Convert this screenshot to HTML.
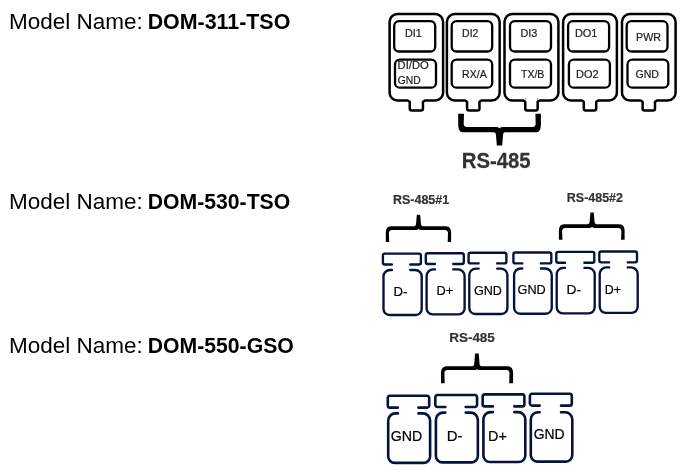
<!DOCTYPE html>
<html><head><meta charset="utf-8"><title>RS-485 pinout</title>
<style>
html,body{margin:0;padding:0;background:#fff;}
body{width:682px;height:472px;overflow:hidden;}
svg{display:block;will-change:transform;font-family:"Liberation Sans",sans-serif;}
</style></head><body>
<svg width="682" height="472" viewBox="0 0 682 472">
<rect width="682" height="472" fill="#fff"/>
<text x="9.05" y="29" font-size="21.5" font-weight="normal" fill="#000" textLength="133.80" lengthAdjust="spacingAndGlyphs">Model Name:</text>
<text x="147.68" y="29" font-size="21.5" font-weight="bold" fill="#000" textLength="142.61" lengthAdjust="spacingAndGlyphs">DOM-311-TSO</text>
<text x="9.05" y="209" font-size="21.5" font-weight="normal" fill="#000" textLength="133.80" lengthAdjust="spacingAndGlyphs">Model Name:</text>
<text x="147.68" y="209" font-size="21.5" font-weight="bold" fill="#000" textLength="142.61" lengthAdjust="spacingAndGlyphs">DOM-530-TSO</text>
<text x="9.05" y="353" font-size="21.5" font-weight="normal" fill="#000" textLength="133.80" lengthAdjust="spacingAndGlyphs">Model Name:</text>
<text x="147.68" y="353" font-size="21.5" font-weight="bold" fill="#000" textLength="146.11" lengthAdjust="spacingAndGlyphs">DOM-550-GSO</text>
<path d="M397.40000000000003,14.0 H435.3 A7.8,7.8 0 0 1 443.1,21.8 V92.7 A7.8,7.8 0 0 1 435.3,100.5 H424.95000000000005 L422.95000000000005,101.7 V108.5 Q422.95000000000005,110.5 420.95000000000005,110.5 H411.75 Q409.75,110.5 409.75,108.5 V101.7 L407.75,100.5 H397.40000000000003 A7.8,7.8 0 0 1 389.6,92.7 V21.8 A7.8,7.8 0 0 1 397.40000000000003,14.0 Z" fill="#fff" stroke="#000" stroke-width="2.5" stroke-linejoin="round"/>
<rect x="394.2" y="21.2" width="41.00" height="30.3" rx="4.8" ry="4.8" fill="#fff" stroke="#000" stroke-width="2.3"/>
<rect x="395.0" y="59.6" width="41.00" height="28.1" rx="4.8" ry="4.8" fill="#fff" stroke="#000" stroke-width="2.3"/>
<path d="M454.7,14.0 H491.84999999999997 A7.8,7.8 0 0 1 499.65,21.8 V92.7 A7.8,7.8 0 0 1 491.84999999999997,100.5 H481.47499999999997 L479.47499999999997,101.7 V108.5 Q479.47499999999997,110.5 477.47499999999997,110.5 H469.075 Q467.075,110.5 467.075,108.5 V101.7 L465.075,100.5 H454.7 A7.8,7.8 0 0 1 446.9,92.7 V21.8 A7.8,7.8 0 0 1 454.7,14.0 Z" fill="#fff" stroke="#000" stroke-width="2.5" stroke-linejoin="round"/>
<rect x="451.7" y="21.2" width="40.50" height="30.3" rx="4.8" ry="4.8" fill="#fff" stroke="#000" stroke-width="2.3"/>
<rect x="451.7" y="59.6" width="40.50" height="28.1" rx="4.8" ry="4.8" fill="#fff" stroke="#000" stroke-width="2.3"/>
<path d="M512.3,14.0 H550.6 A7.8,7.8 0 0 1 558.4,21.8 V92.7 A7.8,7.8 0 0 1 550.6,100.5 H539.6500000000001 L537.6500000000001,101.7 V108.5 Q537.6500000000001,110.5 535.6500000000001,110.5 H527.25 Q525.25,110.5 525.25,108.5 V101.7 L523.25,100.5 H512.3 A7.8,7.8 0 0 1 504.5,92.7 V21.8 A7.8,7.8 0 0 1 512.3,14.0 Z" fill="#fff" stroke="#000" stroke-width="2.5" stroke-linejoin="round"/>
<rect x="510.0" y="21.2" width="41.00" height="30.3" rx="4.8" ry="4.8" fill="#fff" stroke="#000" stroke-width="2.3"/>
<rect x="510.0" y="59.6" width="41.00" height="28.1" rx="4.8" ry="4.8" fill="#fff" stroke="#000" stroke-width="2.3"/>
<path d="M570.9,14.0 H609.1 A7.8,7.8 0 0 1 616.9,21.8 V92.7 A7.8,7.8 0 0 1 609.1,100.5 H598.2 L596.2,101.7 V108.5 Q596.2,110.5 594.2,110.5 H585.8 Q583.8,110.5 583.8,108.5 V101.7 L581.8,100.5 H570.9 A7.8,7.8 0 0 1 563.1,92.7 V21.8 A7.8,7.8 0 0 1 570.9,14.0 Z" fill="#fff" stroke="#000" stroke-width="2.5" stroke-linejoin="round"/>
<rect x="568.1" y="21.2" width="41.00" height="30.3" rx="4.8" ry="4.8" fill="#fff" stroke="#000" stroke-width="2.3"/>
<rect x="568.9" y="59.6" width="41.00" height="28.1" rx="4.8" ry="4.8" fill="#fff" stroke="#000" stroke-width="2.3"/>
<path d="M629.8,14.0 H667.8000000000001 A7.8,7.8 0 0 1 675.6,21.8 V92.7 A7.8,7.8 0 0 1 667.8000000000001,100.5 H657.0 L655.0,101.7 V108.5 Q655.0,110.5 653.0,110.5 H644.5999999999999 Q642.5999999999999,110.5 642.5999999999999,108.5 V101.7 L640.5999999999999,100.5 H629.8 A7.8,7.8 0 0 1 622.0,92.7 V21.8 A7.8,7.8 0 0 1 629.8,14.0 Z" fill="#fff" stroke="#000" stroke-width="2.5" stroke-linejoin="round"/>
<rect x="626.7" y="21.2" width="40.80" height="30.3" rx="4.8" ry="4.8" fill="#fff" stroke="#000" stroke-width="2.3"/>
<rect x="627.5" y="59.6" width="40.80" height="28.1" rx="4.8" ry="4.8" fill="#fff" stroke="#000" stroke-width="2.3"/>
<circle cx="525.7" cy="98.9" r="0.6" fill="#555"/><circle cx="537.5" cy="98.9" r="0.6" fill="#555"/>
<text transform="matrix(1.0767 0.0004 0 1 404.91 37.0)" font-size="10.1" font-weight="normal" fill="#222" stroke="#222" stroke-width="0.2">DI1</text>
<text transform="matrix(1.1105 0.0004 0 1 397.58 69.2)" font-size="10.1" font-weight="normal" fill="#222" stroke="#222" stroke-width="0.2">DI/DO</text>
<text transform="matrix(1.0209 0.0004 0 1 397.78 84.0)" font-size="10.1" font-weight="normal" fill="#222" stroke="#222" stroke-width="0.2">GND</text>
<text transform="matrix(1.0431 0.0004 0 1 462.04 37)" font-size="10.1" font-weight="normal" fill="#222" stroke="#222" stroke-width="0.2">DI2</text>
<text transform="matrix(1.0473 0.0004 0 1 462.03 78)" font-size="10.1" font-weight="normal" fill="#222" stroke="#222" stroke-width="0.2">RX/A</text>
<text transform="matrix(1.0731 0.0004 0 1 520.41 37)" font-size="10.1" font-weight="normal" fill="#222" stroke="#222" stroke-width="0.2">DI3</text>
<text transform="matrix(1.0374 0.0004 0 1 521.06 78)" font-size="10.1" font-weight="normal" fill="#222" stroke="#222" stroke-width="0.2">TX/B</text>
<text transform="matrix(1.0851 0.0004 0 1 574.90 37)" font-size="10.1" font-weight="normal" fill="#222" stroke="#222" stroke-width="0.2">DO1</text>
<text transform="matrix(1.0859 0.0004 0 1 576.10 78)" font-size="10.1" font-weight="normal" fill="#222" stroke="#222" stroke-width="0.2">DO2</text>
<text transform="matrix(1.0644 0.0004 0 1 636.02 41)" font-size="10.1" font-weight="normal" fill="#222" stroke="#222" stroke-width="0.2">PWR</text>
<text transform="matrix(1.0488 0.0004 0 1 635.47 78)" font-size="10.1" font-weight="normal" fill="#222" stroke="#222" stroke-width="0.2">GND</text>
<path d="M458.2,113.8 L464.0,113.8 L463.7,124.5 Q464.0,126.9 466.4,126.9 L495.5,126.9 Q498.5,126.9 499.5,128.20000000000002 Q500.5,126.9 503.5,126.9 L533.0,126.9 Q535.4,126.9 535.6999999999999,124.5 L535.4,113.8 L540.9,113.8 L540.9,124.63999999999999 Q540.6999999999999,132.2 536.6999999999999,132.2 L505.0,132.2 Q503.5,132.2 503.1,134.2 L502.2,145.6 L496.8,145.6 L495.9,134.2 Q495.5,132.2 494.0,132.2 L462.4,132.2 Q458.4,132.2 458.2,124.63999999999999 Z" fill="#000"/>
<text transform="matrix(0.9411 0.0004 0 1 461.74 167.8)" font-size="21.6" font-weight="bold" fill="#333" stroke="#333" stroke-width="0.25">RS-485</text>
<path d="M391.93,264.5 H384.9 A2.0,2.0 0 0 1 382.9,262.5 V255.6 A2.0,2.0 0 0 1 384.9,253.6 H418.9 A2.0,2.0 0 0 1 420.9,255.6 V262.5 A2.0,2.0 0 0 1 418.9,264.5 H410.27" fill="none" stroke="#04133d" stroke-width="2.35" stroke-linecap="round"/>
<path d="M391.93,270.0 H390.1 A6.6,6.6 0 0 0 383.5,276.6 V309.06 A5.9399999999999995,5.9399999999999995 0 0 0 389.44,315.0 H415.76 A5.9399999999999995,5.9399999999999995 0 0 0 421.7,309.06 V276.6 A6.6,6.6 0 0 0 415.09999999999997,270.0 H410.27" fill="none" stroke="#04133d" stroke-width="2.35" stroke-linecap="round"/>
<path d="M434.93,264.0 H427.8 A2.0,2.0 0 0 1 425.8,262.0 V255.2 A2.0,2.0 0 0 1 427.8,253.2 H461.8 A2.0,2.0 0 0 1 463.8,255.2 V262.0 A2.0,2.0 0 0 1 461.8,264.0 H453.27" fill="none" stroke="#04133d" stroke-width="2.35" stroke-linecap="round"/>
<path d="M434.93,269.4 H433.20000000000005 A6.6,6.6 0 0 0 426.6,276.0 V308.46 A5.9399999999999995,5.9399999999999995 0 0 0 432.54,314.4 H458.66 A5.9399999999999995,5.9399999999999995 0 0 0 464.6,308.46 V276.0 A6.6,6.6 0 0 0 458.0,269.4 H453.27" fill="none" stroke="#04133d" stroke-width="2.35" stroke-linecap="round"/>
<path d="M478.62,263.4 H470.6 A2.0,2.0 0 0 1 468.6,261.4 V254.7 A2.0,2.0 0 0 1 470.6,252.7 H504.4 A2.0,2.0 0 0 1 506.4,254.7 V261.4 A2.0,2.0 0 0 1 504.4,263.4 H497.18" fill="none" stroke="#04133d" stroke-width="2.35" stroke-linecap="round"/>
<path d="M478.62,268.6 H475.90000000000003 A6.6,6.6 0 0 0 469.3,275.20000000000005 V308.06 A5.9399999999999995,5.9399999999999995 0 0 0 475.24,314.0 H501.46 A5.9399999999999995,5.9399999999999995 0 0 0 507.4,308.06 V275.20000000000005 A6.6,6.6 0 0 0 500.79999999999995,268.6 H497.18" fill="none" stroke="#04133d" stroke-width="2.35" stroke-linecap="round"/>
<path d="M522.32,263.4 H515.4 A2.0,2.0 0 0 1 513.4,261.4 V254.5 A2.0,2.0 0 0 1 515.4,252.5 H549.3 A2.0,2.0 0 0 1 551.3,254.5 V261.4 A2.0,2.0 0 0 1 549.3,263.4 H540.88" fill="none" stroke="#04133d" stroke-width="2.35" stroke-linecap="round"/>
<path d="M522.32,268.5 H520.7 A6.6,6.6 0 0 0 514.1,275.1 V307.76 A5.9399999999999995,5.9399999999999995 0 0 0 520.0400000000001,313.7 H545.81 A5.9399999999999995,5.9399999999999995 0 0 0 551.75,307.76 V275.1 A6.6,6.6 0 0 0 545.15,268.5 H540.88" fill="none" stroke="#04133d" stroke-width="2.35" stroke-linecap="round"/>
<path d="M565.02,262.7 H558.3 A2.0,2.0 0 0 1 556.3,260.7 V253.8 A2.0,2.0 0 0 1 558.3,251.8 H592.3 A2.0,2.0 0 0 1 594.3,253.8 V260.7 A2.0,2.0 0 0 1 592.3,262.7 H584.38" fill="none" stroke="#04133d" stroke-width="2.35" stroke-linecap="round"/>
<path d="M565.02,267.8 H563.3000000000001 A6.6,6.6 0 0 0 556.7,274.40000000000003 V307.36 A5.9399999999999995,5.9399999999999995 0 0 0 562.6400000000001,313.3 H588.76 A5.9399999999999995,5.9399999999999995 0 0 0 594.7,307.36 V274.40000000000003 A6.6,6.6 0 0 0 588.1,267.8 H584.38" fill="none" stroke="#04133d" stroke-width="2.35" stroke-linecap="round"/>
<path d="M609.17,262.3 H601.3 A2.0,2.0 0 0 1 599.3,260.3 V253.5 A2.0,2.0 0 0 1 601.3,251.5 H635.0 A2.0,2.0 0 0 1 637.0,253.5 V260.3 A2.0,2.0 0 0 1 635.0,262.3 H627.78" fill="none" stroke="#04133d" stroke-width="2.35" stroke-linecap="round"/>
<path d="M609.17,267.4 H606.3000000000001 A6.6,6.6 0 0 0 599.7,274.0 V306.86 A5.9399999999999995,5.9399999999999995 0 0 0 605.6400000000001,312.8 H631.76 A5.9399999999999995,5.9399999999999995 0 0 0 637.7,306.86 V274.0 A6.6,6.6 0 0 0 631.1,267.4 H627.78" fill="none" stroke="#04133d" stroke-width="2.35" stroke-linecap="round"/>
<text transform="matrix(1.0183 0.0004 0 1 393.62 295.8)" font-size="12.9" font-weight="normal" fill="#000" stroke="#000" stroke-width="0.2">D-</text>
<text transform="matrix(0.9898 0.0004 0 1 436.55 295.3)" font-size="12.9" font-weight="normal" fill="#000" stroke="#000" stroke-width="0.2">D+</text>
<text transform="matrix(0.9708 0.0004 0 1 473.97 295.3)" font-size="12.9" font-weight="normal" fill="#000" stroke="#000" stroke-width="0.2">GND</text>
<text transform="matrix(0.9854 0.0004 0 1 517.56 294.2)" font-size="12.9" font-weight="normal" fill="#000" stroke="#000" stroke-width="0.2">GND</text>
<text transform="matrix(1.0601 0.0004 0 1 566.58 294.2)" font-size="12.9" font-weight="normal" fill="#000" stroke="#000" stroke-width="0.2">D-</text>
<text transform="matrix(0.9634 0.0004 0 1 604.78 294.2)" font-size="12.9" font-weight="normal" fill="#000" stroke="#000" stroke-width="0.2">D+</text>
<path d="M385.8,242.0 L389.2,242.0 L388.9,232.55 Q389.2,230.0 391.75,230.0 L415.5,230.0 Q417.5,230.0 418.5,229.1 Q419.5,230.0 421.5,230.0 L445.15,230.0 Q447.7,230.0 448.0,232.55 L447.7,242.0 L451.1,242.0 L451.1,232.3 Q450.90000000000003,226.3 446.1,226.3 L422.9,226.3 Q421.4,226.3 421.0,224.3 L420.15,214.8 L416.85,214.8 L416.0,224.3 Q415.6,226.3 414.1,226.3 L390.8,226.3 Q386.0,226.3 385.8,232.3 Z" fill="#000"/>
<path d="M558.9,239.7 L562.4,239.7 L562.1,230.45000000000002 Q562.4,227.9 564.9499999999999,227.9 L589.1,227.9 Q591.1,227.9 592.1,227.0 Q593.1,227.9 595.1,227.9 L618.5500000000001,227.9 Q621.1,227.9 621.4,230.45000000000002 L621.1,239.7 L624.6,239.7 L624.6,230.3 Q624.4,224.3 619.6,224.3 L596.5,224.3 Q595.0,224.3 594.6,222.3 L593.75,212.6 L590.45,212.6 L589.6,222.3 Q589.2,224.3 587.7,224.3 L563.9,224.3 Q559.1,224.3 558.9,230.3 Z" fill="#000"/>
<text transform="matrix(0.9507 0.0004 0 1 393.07 204.2)" font-size="13.1" font-weight="bold" fill="#333" stroke="#333" stroke-width="0.2">RS-485#1</text>
<text transform="matrix(0.9516 0.0004 0 1 566.87 201.8)" font-size="13.1" font-weight="bold" fill="#333" stroke="#333" stroke-width="0.2">RS-485#2</text>
<path d="M397.90,407.6 H390.0 A2.2,2.2 0 0 1 387.8,405.40000000000003 V398.0 A2.2,2.2 0 0 1 390.0,395.8 H427.0 A2.2,2.2 0 0 1 429.2,398.0 V405.40000000000003 A2.2,2.2 0 0 1 427.0,407.6 H418.40" fill="none" stroke="#04133d" stroke-width="2.6" stroke-linecap="round"/>
<path d="M397.90,413.4 H395.4 A7.2,7.2 0 0 0 388.2,420.59999999999997 V456.41999999999996 A6.48,6.48 0 0 0 394.68,462.9 H423.62 A6.48,6.48 0 0 0 430.1,456.41999999999996 V420.59999999999997 A7.2,7.2 0 0 0 422.90000000000003,413.4 H418.40" fill="none" stroke="#04133d" stroke-width="2.6" stroke-linecap="round"/>
<path d="M445.30,407.0 H437.5 A2.2,2.2 0 0 1 435.3,404.8 V397.2 A2.2,2.2 0 0 1 437.5,395.0 H474.85 A2.2,2.2 0 0 1 477.05,397.2 V404.8 A2.2,2.2 0 0 1 474.85,407.0 H465.70" fill="none" stroke="#04133d" stroke-width="2.6" stroke-linecap="round"/>
<path d="M445.30,412.6 H443.09999999999997 A7.2,7.2 0 0 0 435.9,419.8 V455.91999999999996 A6.48,6.48 0 0 0 442.38,462.4 H471.37 A6.48,6.48 0 0 0 477.85,455.91999999999996 V419.8 A7.2,7.2 0 0 0 470.65000000000003,412.6 H465.70" fill="none" stroke="#04133d" stroke-width="2.6" stroke-linecap="round"/>
<path d="M492.90,406.4 H484.84999999999997 A2.2,2.2 0 0 1 482.65,404.2 V396.59999999999997 A2.2,2.2 0 0 1 484.84999999999997,394.4 H522.1999999999999 A2.2,2.2 0 0 1 524.4,396.59999999999997 V404.2 A2.2,2.2 0 0 1 522.1999999999999,406.4 H514.30" fill="none" stroke="#04133d" stroke-width="2.6" stroke-linecap="round"/>
<path d="M492.90,412.1 H490.59999999999997 A7.2,7.2 0 0 0 483.4,419.3 V455.52 A6.48,6.48 0 0 0 489.88,462.0 H518.8199999999999 A6.48,6.48 0 0 0 525.3,455.52 V419.3 A7.2,7.2 0 0 0 518.0999999999999,412.1 H514.30" fill="none" stroke="#04133d" stroke-width="2.6" stroke-linecap="round"/>
<path d="M539.70,405.6 H532.1 A2.2,2.2 0 0 1 529.9,403.40000000000003 V395.9 A2.2,2.2 0 0 1 532.1,393.7 H569.5999999999999 A2.2,2.2 0 0 1 571.8,395.9 V403.40000000000003 A2.2,2.2 0 0 1 569.5999999999999,405.6 H561.00" fill="none" stroke="#04133d" stroke-width="2.6" stroke-linecap="round"/>
<path d="M539.70,412.2 H538.0 A7.2,7.2 0 0 0 530.8,419.4 V455.12 A6.48,6.48 0 0 0 537.28,461.6 H565.8199999999999 A6.48,6.48 0 0 0 572.3,455.12 V419.4 A7.2,7.2 0 0 0 565.0999999999999,412.2 H561.00" fill="none" stroke="#04133d" stroke-width="2.6" stroke-linecap="round"/>
<text transform="matrix(1.0195 0.0004 0 1 390.79 441.3)" font-size="13.9" font-weight="normal" fill="#000" stroke="#000" stroke-width="0.2">GND</text>
<text transform="matrix(1.0768 0.0004 0 1 446.77 441.3)" font-size="13.9" font-weight="normal" fill="#000" stroke="#000" stroke-width="0.2">D-</text>
<text transform="matrix(1.0349 0.0004 0 1 488.02 441.3)" font-size="13.9" font-weight="normal" fill="#000" stroke="#000" stroke-width="0.2">D+</text>
<text transform="matrix(1.0026 0.0004 0 1 533.70 439.4)" font-size="13.9" font-weight="normal" fill="#000" stroke="#000" stroke-width="0.2">GND</text>
<path d="M441.0,383.2 L444.7,383.2 L444.4,372.8 Q444.7,370.1 447.4,370.1 L473.9,370.1 Q475.9,370.1 476.9,369.20000000000005 Q477.9,370.1 479.9,370.1 L506.5,370.1 Q509.2,370.1 509.5,372.8 L509.2,383.2 L513.1,383.2 L513.1,372.7 Q512.9,366.2 507.70000000000005,366.2 L481.5,366.2 Q480.0,366.2 479.6,364.2 L478.75,353.4 L475.04999999999995,353.4 L474.19999999999993,364.2 Q473.79999999999995,366.2 472.29999999999995,366.2 L446.4,366.2 Q441.2,366.2 441.0,372.7 Z" fill="#000"/>
<text transform="matrix(1.0129 0.0004 0 1 449.20 341.8)" font-size="13.3" font-weight="bold" fill="#333" stroke="#333" stroke-width="0.2">RS-485</text>
</svg>
</body></html>
